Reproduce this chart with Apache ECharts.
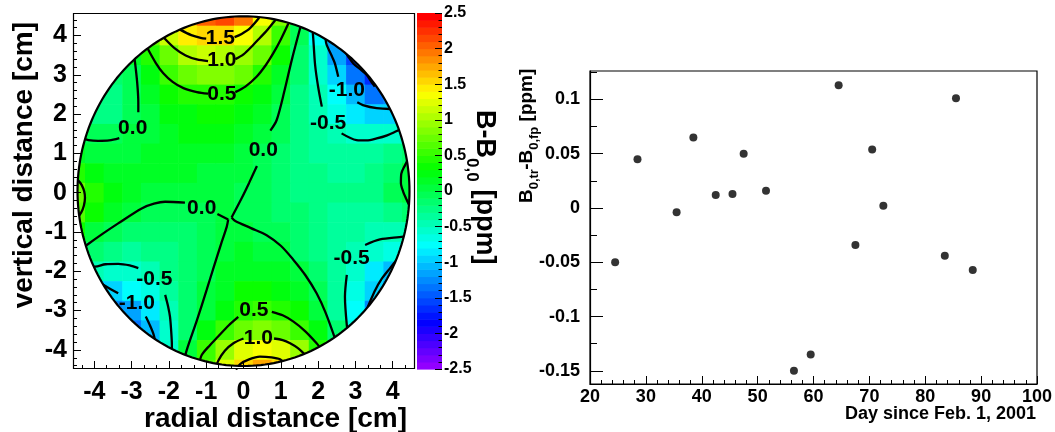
<!DOCTYPE html>
<html><head><meta charset="utf-8">
<script src="https://cdn.jsdelivr.net/npm/echarts@6/dist/echarts.min.js"></script>
<style>html,body{margin:0;padding:0;background:#fff}#c{width:1055px;height:432px}</style>
</head><body><div id="c"></div>
<script>
// ---------------- DATA ----------------
const fieldX = [-4.5,-4,-3.5,-3,-2.5,-2,-1.5,-1,-0.5,0,0.5,1,1.5,2,2.5,3,3.5,4,4.5];
const fieldY = [4.5,4,3.5,3,2.5,2,1.5,1,0.5,0,-0.5,-1,-1.5,-2,-2.5,-3,-3.5,-4,-4.5];
const fieldValues = [
 [null,null,null,null,null,null,1.65,2.0,2.15,1.95,1.35,0.8,0.05,null,null,null,null,null,null],
 [null,null,null,null,0.7,1.1,1.45,1.57,1.56,1.35,1.0,0.57,-0.05,-0.8,-1.2,null,null,null,null],
 [null,null,null,0.15,0.47,0.75,1.0,1.1,1.08,0.95,0.72,0.3,-0.15,-0.6,-1.15,-1.6,null,null,null],
 [null,null,-0.2,-0.03,0.22,0.53,0.72,0.8,0.8,0.7,0.45,0.14,-0.2,-0.53,-0.98,-1.4,-1.7,null,null],
 [null,-0.3,-0.28,-0.06,0.14,0.32,0.43,0.48,0.48,0.38,0.22,0.02,-0.24,-0.48,-0.8,-1.1,-1.35,-1.25,null],
 [null,-0.28,-0.22,-0.05,0.08,0.2,0.28,0.33,0.32,0.25,0.12,-0.04,-0.24,-0.44,-0.66,-0.82,-0.92,-0.95,null],
 [-0.05,-0.08,-0.06,0.02,0.09,0.16,0.21,0.23,0.2,0.12,0.04,-0.1,-0.24,-0.36,-0.46,-0.56,-0.57,-0.52,-0.45],
 [0.15,0.08,0.06,0.07,0.1,0.13,0.15,0.15,0.11,0.05,-0.02,-0.14,-0.24,-0.31,-0.37,-0.4,-0.38,-0.28,-0.12],
 [0.45,0.25,0.14,0.1,0.1,0.11,0.11,0.09,0.05,0.01,-0.07,-0.15,-0.22,-0.28,-0.32,-0.33,-0.29,-0.14,0.03],
 [0.7,0.4,0.2,0.11,0.08,0.06,0.05,0.03,0.01,-0.02,-0.08,-0.15,-0.21,-0.26,-0.29,-0.3,-0.25,-0.1,0.06],
 [0.65,0.3,0.1,0.01,-0.04,-0.06,-0.05,-0.02,0.01,-0.03,-0.08,-0.14,-0.2,-0.26,-0.31,-0.35,-0.34,-0.26,-0.14],
 [0.3,0.08,-0.05,-0.12,-0.16,-0.16,-0.12,-0.06,0.0,0.04,-0.02,-0.1,-0.19,-0.27,-0.34,-0.4,-0.43,-0.46,-0.46],
 [0.02,-0.15,-0.3,-0.33,-0.3,-0.25,-0.17,-0.08,0.04,0.1,0.08,0.02,-0.12,-0.25,-0.38,-0.49,-0.6,-0.68,-0.7],
 [null,-0.5,-0.6,-0.55,-0.42,-0.3,-0.18,-0.05,0.1,0.18,0.17,0.1,0.01,-0.17,-0.38,-0.6,-0.82,-1.02,null],
 [null,-1.0,-0.98,-0.8,-0.62,-0.4,-0.2,0.0,0.17,0.3,0.33,0.28,0.15,-0.06,-0.36,-0.65,-0.98,-1.25,null],
 [null,null,-1.3,-1.12,-0.85,-0.5,-0.2,0.05,0.27,0.45,0.51,0.47,0.33,0.08,-0.32,-0.78,-1.25,null,null],
 [null,null,null,-1.35,-1.05,-0.55,-0.12,0.22,0.5,0.75,0.85,0.78,0.55,0.22,-0.15,-0.7,null,null,null],
 [null,null,null,null,-1.1,-0.6,0.0,0.5,0.92,1.22,1.35,1.25,0.98,0.48,-0.1,null,null,null,null],
 [null,null,null,null,null,null,0.05,0.62,1.2,1.55,1.72,1.5,0.9,null,null,null,null,null,null]
];
// measurement region (cm)
const circleCenter = [0, 0.04];
const circleRadius = 4.45;

// contour lines (cm), split where labels sit
const contourSegments = [
 [[-1.70,4.15],[-1.40,4.01],[-1.15,3.94],[-1.00,3.92]],
 [[-0.24,3.96],[-0.05,4.04],[0.17,4.18],[0.42,4.45]],
 [[-2.14,3.95],[-1.85,3.68],[-1.55,3.49],[-1.25,3.39],[-0.95,3.35]],
 [[-0.22,3.40],[0.00,3.52],[0.26,3.76],[0.45,3.95],[0.62,4.12],[0.86,4.40]],
 [[-2.60,3.72],[-2.35,3.30],[-2.15,3.04],[-1.90,2.82],[-1.61,2.66],[-1.25,2.56],[-0.95,2.52]],
 [[-0.22,2.56],[0.05,2.70],[0.35,2.95],[0.60,3.25],[0.80,3.55],[1.00,3.90],[1.20,4.30]],
 [[1.55,4.30],[1.30,3.40],[1.10,2.60],[0.89,1.85],[0.72,1.58]],
 [[0.36,0.68],[0.15,0.25],[-0.05,-0.14],[-0.32,-0.63]],
 [[-0.32,-0.63],[-0.22,-0.72],[0.20,-0.90],[0.62,-1.08],[1.00,-1.35],[1.34,-1.71],[1.66,-2.10],[1.96,-2.56],[2.20,-3.05],[2.48,-3.78]],
 [[-4.35,-1.44],[-4.20,-1.33],[-3.80,-1.06],[-3.36,-0.78],[-2.73,-0.40],[-2.40,-0.28],[-2.10,-0.23],[-1.57,-0.25]],
 [[-0.70,-0.54],[-0.41,-0.68]],
 [[-0.41,-0.68],[-0.45,-0.87],[-0.60,-1.30],[-0.80,-1.90],[-0.99,-2.48],[-1.25,-3.25],[-1.52,-4.00],[-1.60,-4.30]],
 [[-2.94,3.50],[-2.91,3.33],[-2.85,2.80],[-2.82,2.30],[-2.82,2.05]],
 [[-3.33,1.39],[-3.60,1.33],[-3.90,1.32],[-4.16,1.34],[-4.40,1.40]],
 [[-4.55,0.40],[-4.44,0.32],[-4.34,0.20],[-4.27,0.03],[-4.25,-0.13],[-4.28,-0.33],[-4.35,-0.50],[-4.46,-0.64],[-4.55,-0.70]],
 [[4.50,1.00],[4.44,0.90],[4.33,0.70],[4.23,0.48],[4.22,0.25],[4.28,0.03],[4.36,-0.15],[4.45,-0.33],[4.52,-0.42]],
 [[2.70,3.62],[2.81,3.46],[2.95,3.28],[3.12,3.15],[3.30,3.00],[3.44,2.80],[3.52,2.70]],
 [[2.20,3.90],[2.23,3.76],[2.38,3.45],[2.45,3.29],[2.54,2.95]],
 [[3.05,2.30],[3.20,2.23],[3.57,2.15],[3.93,2.13],[4.10,2.13]],
 [[1.85,4.15],[1.87,3.93],[1.92,3.25],[2.00,2.70],[2.10,2.19]],
 [[2.63,1.51],[3.03,1.34],[3.30,1.33],[3.57,1.38],[3.85,1.46],[4.11,1.57],[4.30,1.65]],
 [[4.45,-1.08],[4.28,-1.12],[3.66,-1.19],[3.26,-1.33]],
 [[2.77,-2.09],[2.72,-2.65],[2.77,-3.37],[2.82,-3.65]],
 [[4.10,-1.72],[3.93,-1.92],[3.70,-2.20],[3.53,-2.48],[3.38,-2.80],[3.30,-2.98],[3.22,-3.15]],
 [[-4.15,-1.88],[-3.98,-1.88],[-3.70,-1.82],[-3.36,-1.81],[-3.05,-1.85],[-2.82,-1.92]],
 [[-2.10,-2.60],[-2.02,-2.90],[-1.97,-3.16],[-1.94,-3.50],[-1.92,-3.87],[-1.92,-4.15]],
 [[-3.85,-2.30],[-3.67,-2.39],[-3.36,-2.56]],
 [[-2.62,-3.15],[-2.52,-3.35],[-2.42,-3.58],[-2.36,-3.80]],
 [[-1.18,-4.35],[-1.12,-4.13],[-0.90,-3.88],[-0.68,-3.66],[-0.40,-3.38],[-0.14,-3.16]],
 [[0.76,-3.03],[1.05,-3.12],[1.34,-3.28],[1.65,-3.52],[1.96,-3.83],[2.10,-4.00]],
 [[-0.75,-4.48],[-0.68,-4.28],[-0.50,-4.02],[-0.27,-3.83],[0.00,-3.71]],
 [[0.82,-3.71],[1.05,-3.75],[1.25,-3.83],[1.45,-3.95],[1.68,-4.15]],
 [[-0.20,-4.50],[-0.09,-4.36],[0.15,-4.24],[0.44,-4.17],[0.75,-4.19],[0.98,-4.24],[1.12,-4.36]]
];
const contourLabels = [
 [-0.62,3.93,'1.5'],[-0.58,3.36,'1.0'],[-0.58,2.50,'0.5'],
 [-2.97,1.65,'0.0'],[0.53,1.09,'0.0'],[-1.12,-0.40,'0.0'],
 [2.77,2.60,'-1.0'],[2.27,1.78,'-0.5'],[2.90,-1.67,'-0.5'],
 [-2.39,-2.20,'-0.5'],[-2.86,-2.80,'-1.0'],
 [0.28,-3.00,'0.5'],[0.40,-3.70,'1.0']
];
const fieldTicks = [-4,-3,-2,-1,0,1,2,3,4];

// Time series: B0,tr - B0,fp [ppm] vs day since Feb. 1, 2001
const days   = [24.5,28.5,35.5,38.5,42.5,45.5,47.5,51.5,56.5,59.5,64.5,67.5,70.5,72.5,83.5,85.5,88.5];
const deltaB = [-0.050,0.045,-0.004,0.065,0.012,0.013,0.050,0.016,-0.150,-0.135,0.113,-0.034,0.054,0.002,-0.044,0.101,-0.057];
const deltaTicks = [-0.15,-0.1,-0.05,0,0.05,0.1];
const deltaMinorTicks = [-0.125,-0.075,-0.025,0.025,0.075,0.125];

// ---------------- STYLE / HELPERS ----------------
const FONT = '"Liberation Sans", Arial, Helvetica, sans-serif';
const zMin = -2.5, zMax = 2.5, nColors = 50;
function paletteColor(v){
  let i = Math.floor((v - zMin) / (zMax - zMin) * nColors + 1e-9);
  i = Math.max(0, Math.min(nColors - 1, i));
  const hue = 280 - (i + 1) * 280 / nColors;
  return 'hsl(' + hue.toFixed(1) + ',100%,50%)';
}
const minorX = [], minorY = [];
for (let k = -13; k <= 13; k++) { if (k % 3 !== 0) minorX.push(k / 3); }
for (let k = -22; k <= 22; k++) { if (k % 5 !== 0) minorY.push(k / 5); }

const cellData = [];
fieldY.forEach((y, r) => fieldX.forEach((x, c) => {
  const v = fieldValues[r][c];
  if (v !== null) cellData.push([x, y, v]);
}));
const halfX = (fieldX[1] - fieldX[0]) / 2, halfY = (fieldY[0] - fieldY[1]) / 2;

const colorbarData = [];
for (let i = 0; i < nColors; i++) colorbarData.push([0, zMin + (i + 0.5) * (zMax - zMin) / nColors]);

const FX = [-4.571, 4.598], FY = [-4.486, 4.573];

const tickStyle = {color:'#000', width:1};
const lbl = (size) => ({color:'#000', fontFamily:FONT, fontWeight:'bold', fontSize:size});
const noLine = {show:false, onZero:false};

const series = [];
series.push({
  type:'custom', xAxisIndex:0, yAxisIndex:0, z:1, clip:true, silent:true,
  data: cellData,
  renderItem(params, api){
    const cs = params.coordSys;
    const x = api.value(0), y = api.value(1), v = api.value(2);
    const p0 = api.coord([x - halfX, y + halfY]);
    const p1 = api.coord([x + halfX, y - halfY]);
    let x0 = Math.max(cs.x, p0[0]), x1 = Math.min(cs.x + cs.width, p1[0] + 0.6);
    let y0 = Math.max(cs.y, p0[1]), y1 = Math.min(cs.y + cs.height, p1[1] + 0.6);
    if (x1 <= x0 || y1 <= y0) return null;
    return {type:'rect', shape:{x:x0, y:y0, width:x1 - x0, height:y1 - y0}, style:{fill: paletteColor(v)}};
  }
});
contourSegments.forEach(seg => series.push({
  type:'line', xAxisIndex:0, yAxisIndex:0, z:3, silent:true, symbol:'none', smooth:0.3,
  lineStyle:{color:'#000', width:2.3}, data: seg
}));
series.push({
  type:'custom', xAxisIndex:0, yAxisIndex:0, z:4, silent:true, data:[[0,0]],
  renderItem(params, api){
    const cs = params.coordSys;
    const c = api.coord(circleCenter);
    const e = api.coord([circleCenter[0] + circleRadius, circleCenter[1] + circleRadius]);
    const rx = e[0] - c[0], ry = c[1] - e[1];
    const x0 = cs.x, y0 = cs.y, x1 = cs.x + cs.width, y1 = cs.y + cs.height;
    let ell = '';
    const N = 240;
    for (let k = 0; k <= N; k++) {
      const a = 2 * Math.PI * k / N;
      ell += (k ? 'L' : 'M') + (c[0] + rx * Math.cos(a)).toFixed(2) + ' ' + (c[1] - ry * Math.sin(a)).toFixed(2);
    }
    ell += 'Z';
    const mask = 'M' + x0 + ' ' + y0 + 'L' + x1 + ' ' + y0 + 'L' + x1 + ' ' + y1 + 'L' + x0 + ' ' + y1 + 'Z' + ell;
    return {type:'group', children:[
      {type:'path', shape:{pathData:mask}, style:{fill:'#fff', stroke:'none'}},
      {type:'path', shape:{pathData:ell}, style:{fill:'none', stroke:'#000', lineWidth:2.2}},
      {type:'rect', shape:{x:x0 + 0.5, y:y0 + 0.5, width:cs.width - 1, height:cs.height - 1}, style:{fill:'none', stroke:'#000', lineWidth:1.2}}
    ]};
  }
});
series.push({
  type:'custom', xAxisIndex:0, yAxisIndex:0, z:5, silent:true,
  data: contourLabels.map(d => [d[0], d[1]]),
  renderItem(params, api){
    const p = api.coord([api.value(0), api.value(1)]);
    return {type:'text', x:p[0], y:p[1], style:{text: contourLabels[params.dataIndex][2], font:'bold 21px ' + FONT, fill:'#000',
      align:'center', verticalAlign:'middle', textAlign:'center', textVerticalAlign:'middle'}};
  }
});
series.push({
  type:'custom', xAxisIndex:2, yAxisIndex:2, z:2, silent:true, data: colorbarData,
  renderItem(params, api){
    const v = api.value(1), h = (zMax - zMin) / nColors / 2;
    const p0 = api.coord([0, v + h]), p1 = api.coord([1, v - h]);
    return {type:'rect', shape:{x:p0[0], y:p0[1], width:p1[0] - p0[0], height:p1[1] - p0[1] + 0.6}, style:{fill: paletteColor(v)}};
  }
});
series.push({
  type:'scatter', xAxisIndex:3, yAxisIndex:3, z:5, symbol:'circle', symbolSize:8,
  itemStyle:{color:'#000'}, data: days.map((d, i) => [d, deltaB[i]])
});

const option = {
  animation:false,
  backgroundColor:'#fff',
  grid:[
    {left:73, top:13, width:342, height:356, show:false, outerBoundsMode:'none'},
    {left:417, top:13, width:25, height:356, show:false, outerBoundsMode:'none'},
    {left:590, top:71, width:447, height:313, show:true, borderColor:'#000', borderWidth:1.2, backgroundColor:'transparent', outerBoundsMode:'none'}
  ],
  xAxis:[
    {gridIndex:0, type:'value', min:FX[0], max:FX[1], position:'bottom', z:10,
      axisLine:noLine, splitLine:{show:false},
      axisTick:{show:true, inside:true, length:8, customValues:fieldTicks, lineStyle:tickStyle},
      axisLabel:Object.assign({show:true, margin:11, customValues:fieldTicks, formatter:v => String(v)}, lbl(25))},
    {gridIndex:0, type:'value', min:FX[0], max:FX[1], position:'bottom', z:10,
      axisLine:noLine, splitLine:{show:false},
      axisTick:{show:true, inside:true, length:4, customValues:minorX, lineStyle:tickStyle},
      axisLabel:{show:false}},
    {gridIndex:1, type:'value', min:0, max:1, show:false, axisLine:noLine},
    {gridIndex:2, type:'value', min:20, max:100, interval:10, position:'bottom', z:10,
      axisLine:{show:true, onZero:false, lineStyle:{color:'#000', width:1.2}}, splitLine:{show:false},
      axisTick:{show:true, inside:true, length:8, lineStyle:tickStyle},
      minorTick:{show:true, splitNumber:5, length:4, lineStyle:tickStyle},
      axisLabel:Object.assign({margin:4, showMinLabel:true, showMaxLabel:true}, lbl(18))}
  ],
  yAxis:[
    {gridIndex:0, type:'value', min:FY[0], max:FY[1], position:'left', z:10,
      axisLine:noLine, splitLine:{show:false},
      axisTick:{show:true, inside:true, length:8, customValues:fieldTicks, lineStyle:tickStyle},
      axisLabel:Object.assign({show:true, margin:6, customValues:fieldTicks, formatter:v => String(v)}, lbl(25))},
    {gridIndex:0, type:'value', min:FY[0], max:FY[1], position:'left', z:10,
      axisLine:noLine, splitLine:{show:false},
      axisTick:{show:true, inside:true, length:4, customValues:minorY, lineStyle:tickStyle},
      axisLabel:{show:false}},
    {gridIndex:1, type:'value', min:zMin, max:zMax, interval:0.5, position:'right', z:10,
      axisLine:noLine, splitLine:{show:false},
      axisTick:{show:true, inside:true, length:7, lineStyle:tickStyle},
      minorTick:{show:true, splitNumber:5, length:3.5, lineStyle:tickStyle},
      axisLabel:Object.assign({margin:2, showMinLabel:true, showMaxLabel:true}, lbl(16))},
    {gridIndex:2, type:'value', min:-0.1621, max:0.1262, position:'left', z:10,
      axisLine:{show:true, onZero:false, lineStyle:{color:'#000', width:1.2}}, splitLine:{show:false},
      axisTick:{show:true, inside:true, length:13, customValues:deltaTicks, lineStyle:tickStyle},
      axisLabel:Object.assign({margin:10, customValues:deltaTicks, formatter:v => String(Math.round(v * 1000) / 1000)}, lbl(18))},
    {gridIndex:2, type:'value', min:-0.1621, max:0.1262, position:'left', z:10,
      axisLine:noLine, splitLine:{show:false},
      axisTick:{show:true, inside:true, length:7, customValues:deltaMinorTicks, lineStyle:tickStyle},
      axisLabel:{show:false}}
  ],
  graphic:[
    {type:'text', x:407, y:419, z:20, style:{text:'radial distance [cm]', font:'bold 28px ' + FONT, fill:'#000', align:'right', verticalAlign:'middle', textAlign:'right', textVerticalAlign:'middle'}},
    {type:'text', x:24, y:22, z:20, rotation:Math.PI/2, style:{text:'vertical distance [cm]', font:'bold 28px ' + FONT, fill:'#000', align:'right', verticalAlign:'middle', textAlign:'right', textVerticalAlign:'middle'}},
    {type:'text', x:484, y:110, z:20, rotation:-Math.PI/2, style:{text:'B-B', font:'bold 27px ' + FONT, fill:'#000', align:'left', verticalAlign:'middle', textAlign:'left', textVerticalAlign:'middle'}},
    {type:'text', x:472, y:158, z:20, rotation:-Math.PI/2, style:{text:'0,0', font:'bold 17px ' + FONT, fill:'#000', align:'left', verticalAlign:'middle', textAlign:'left', textVerticalAlign:'middle'}},
    {type:'text', x:484, y:182, z:20, rotation:-Math.PI/2, style:{text:' [ppm]', font:'bold 27px ' + FONT, fill:'#000', align:'left', verticalAlign:'middle', textAlign:'left', textVerticalAlign:'middle'}},
    {type:'text', x:527, y:203, z:20, rotation:Math.PI/2, style:{text:'B', font:'bold 19px ' + FONT, fill:'#000', align:'left', verticalAlign:'middle', textAlign:'left', textVerticalAlign:'middle'}},
    {type:'text', x:534, y:189.3, z:20, rotation:Math.PI/2, style:{text:'0,tr', font:'bold 13px ' + FONT, fill:'#000', align:'left', verticalAlign:'middle', textAlign:'left', textVerticalAlign:'middle'}},
    {type:'text', x:527, y:169.8, z:20, rotation:Math.PI/2, style:{text:'-B', font:'bold 19px ' + FONT, fill:'#000', align:'left', verticalAlign:'middle', textAlign:'left', textVerticalAlign:'middle'}},
    {type:'text', x:534, y:149.8, z:20, rotation:Math.PI/2, style:{text:'0,fp', font:'bold 13px ' + FONT, fill:'#000', align:'left', verticalAlign:'middle', textAlign:'left', textVerticalAlign:'middle'}},
    {type:'text', x:527, y:126.7, z:20, rotation:Math.PI/2, style:{text:' [ppm]', font:'bold 19px ' + FONT, fill:'#000', align:'left', verticalAlign:'middle', textAlign:'left', textVerticalAlign:'middle'}},
    {type:'text', x:1036, y:414, z:20, style:{text:'Day since Feb. 1, 2001', font:'bold 18px ' + FONT, fill:'#000', align:'right', verticalAlign:'middle', textAlign:'right', textVerticalAlign:'middle'}}
  ],
  series: series
};
const chart = echarts.init(document.getElementById('c'), null, {renderer:'canvas'});
chart.setOption(option);
</script>
</body></html>
